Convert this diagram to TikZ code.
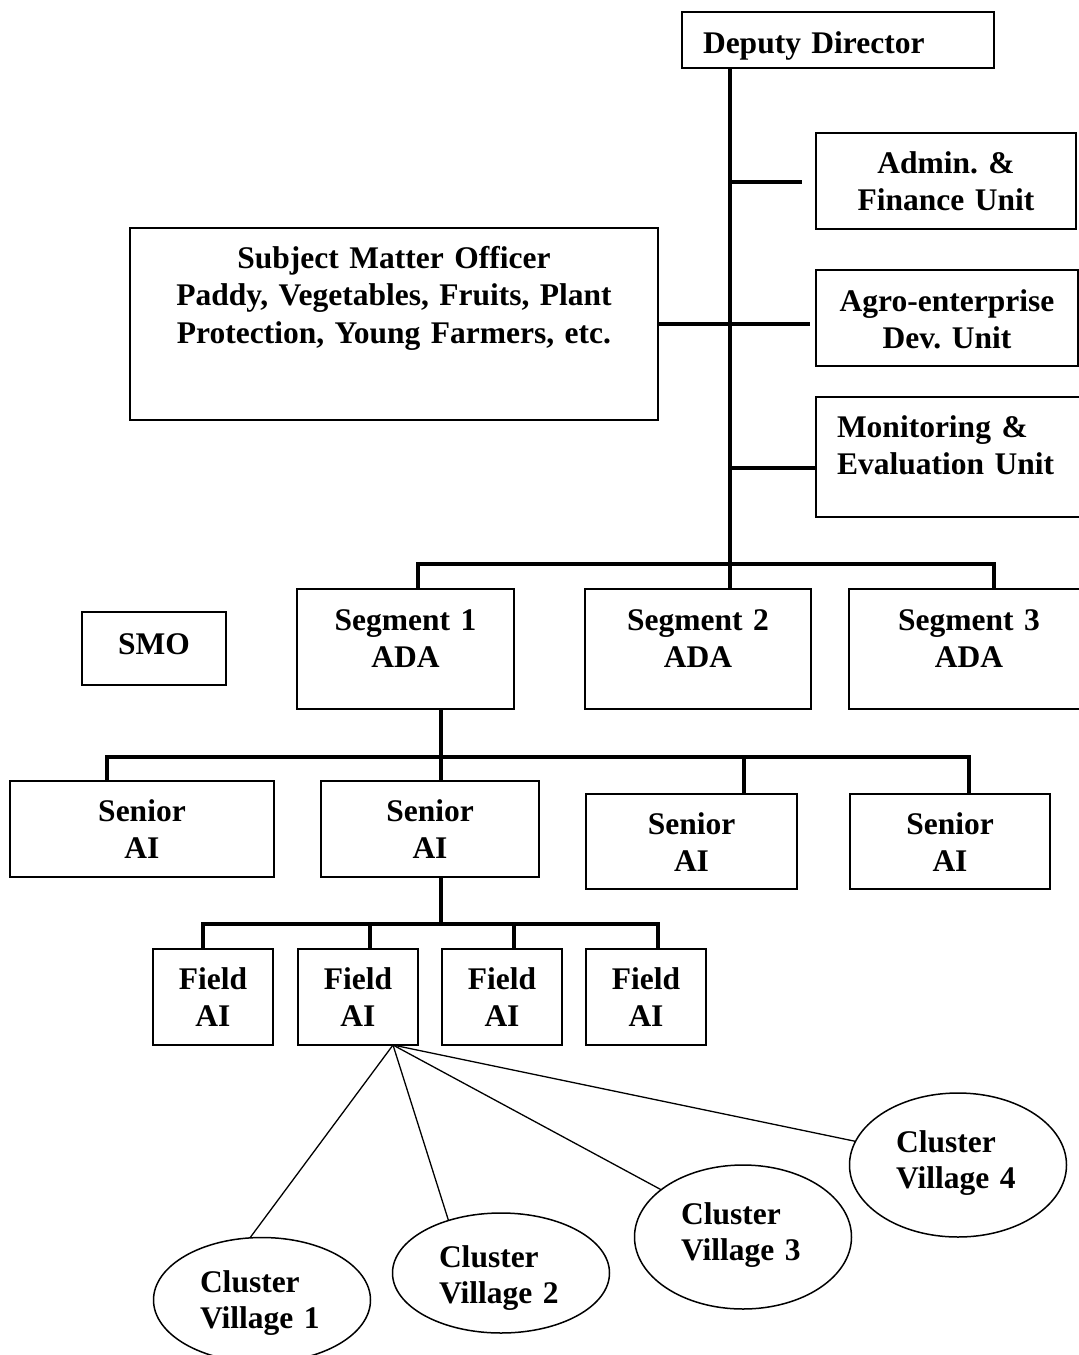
\documentclass[tikz,border=0pt]{standalone}
\usepackage{fontspec}
\setmainfont{Liberation Serif}
\usetikzlibrary{shapes.geometric,calc}
\newcommand\orgfont{\fontsize{31.5}{37.5}\selectfont\bfseries\frenchspacing}
\newcommand\vilfont{\fontsize{31.5}{36}\selectfont\bfseries\frenchspacing}
\tikzset{orgbox/.style n args={3}{draw, line width=2pt, inner sep=0pt, outer sep=0pt,
		anchor=north west, align=center, font=\orgfont,
		text width=#1, text height=#2, text depth=#3}}
\tikzset{village/.style={draw, ellipse, line width=1.5pt, inner sep=0pt, outer sep=0pt,
		align=left, text width=124pt, minimum width=217pt, font=\vilfont}}
\tikzset{link/.style={line width=4.3pt}, spoke/.style={line width=1.3pt}}

\begin{document}
\begin{tikzpicture}[x=1pt,y=-1pt]
	\useasboundingbox (0,0) rectangle (1079,1355);
	% head office
	\node[orgbox={270pt}{41.5pt}{14.5pt}, align=left, inner xsep=21pt] (dd) at (682,12) {Deputy Director};
	\node[orgbox={260pt}{40pt}{56pt}] (admin) at (816,133) {Admin. \&\\Finance Unit};
	\node[orgbox={262pt}{41pt}{55pt}] (agro) at (816,270) {Agro-enterprise\\Dev. Unit};
	\node[orgbox={228pt}{40pt}{80pt}, align=left, inner xsep=21pt] (mon) at (816,397) {Monitoring \&\\Evaluation Unit};
	\node[orgbox={528pt}{40pt}{152pt}] (subj) at (130,228) {Subject Matter Officer\\Paddy, Vegetables, Fruits, Plant\\Protection, Young Farmers, etc.};
	% segments
	\node[orgbox={144pt}{42pt}{31pt}] (smo) at (82,612) {SMO};
	\node[orgbox={217pt}{41pt}{79pt}] (seg1) at (297,589) {Segment 1\\ADA};
	\node[orgbox={226pt}{41pt}{79pt}] (seg2) at (585,589) {Segment 2\\ADA};
	\node[orgbox={240pt}{41pt}{79pt}] (seg3) at (849,589) {Segment 3\\ADA};
	% senior and field AI
	\node[orgbox={264pt}{40pt}{56pt}] (sai1) at (10,781) {Senior\\AI};
	\node[orgbox={218pt}{40pt}{56pt}] (sai2) at (321,781) {Senior\\AI};
	\node[orgbox={211pt}{40pt}{55pt}] (sai3) at (586,794) {Senior\\AI};
	\node[orgbox={200pt}{40pt}{55pt}] (sai4) at (850,794) {Senior\\AI};
	\foreach \x [count=\i] in {153,298,442,586}
		\node[orgbox={120pt}{40pt}{56pt}] (fai\i) at (\x,949) {Field\\AI};
	% villages
	\node[village, minimum height=125pt, text height=30pt, text depth=46pt] (cv1) at (262,1300) {Cluster\\Village 1};
	\node[village, minimum height=120pt, text height=30pt, text depth=42pt] (cv2) at (501,1273) {Cluster\\Village 2};
	\node[village, minimum height=144pt, text height=25pt, text depth=51pt] (cv3) at (743,1237) {Cluster\\Village 3};
	\node[village, minimum height=144pt, text height=25pt, text depth=51pt] (cv4) at (958,1165) {Cluster\\Village 4};
	
	\coordinate (jadm) at (730,182);
	\coordinate (admend) at (802,182);
	\coordinate (jagro) at (730,324);
	\coordinate (agroend) at (810,324);
	\coordinate (jmon) at (730,468);
	\coordinate (hub) at (730,564);
	\coordinate (bseg1) at (418,564);
	\coordinate (bseg3) at (994,564);
	\coordinate (bsai) at (441,757);
	\coordinate (bsai1) at (107,757);
	\coordinate (bsai3) at (744,757);
	\coordinate (bsai4) at (969,757);
	\coordinate (bfai) at (441,924);
	\foreach \x [count=\i] in {203,370,514,658}
		\coordinate (bfai\i) at (\x,924);
	\coordinate (fan) at (393,1045);
	
	\draw[link] (dd.south -| hub) -- (hub |- seg2.north);
	\draw[link] (jadm) -- (admend);
	\draw[link] (subj.east |- jagro) -- (agroend);
	\draw[link] (jmon) -- (jmon -| mon.west);
	\draw[link] (bseg1 |- seg1.north) -- (bseg1) -- (bseg3) -- (bseg3 |- seg3.north);
	\draw[link] (bsai |- seg1.south) -- (bsai |- sai2.north);
	\draw[link] (bsai1 |- sai1.north) -- (bsai1) -- (bsai4) -- (bsai4 |- sai4.north);
	\draw[link] (bsai3) -- (bsai3 |- sai3.north);
	\draw[link] (bfai |- sai2.south) -- (bfai);
	\draw[link] (bfai1 |- fai1.north) -- (bfai1) -- (bfai4) -- (bfai4 |- fai4.north);
	\draw[link] (bfai2) -- (bfai2 |- fai2.north);
	\draw[link] (bfai3) -- (bfai3 |- fai3.north);
	\foreach \v/\a in {1/101,2/135,3/150,4/167}
		\draw[spoke] (fan) -- (cv\v.\a);
\end{tikzpicture}
\end{document}
